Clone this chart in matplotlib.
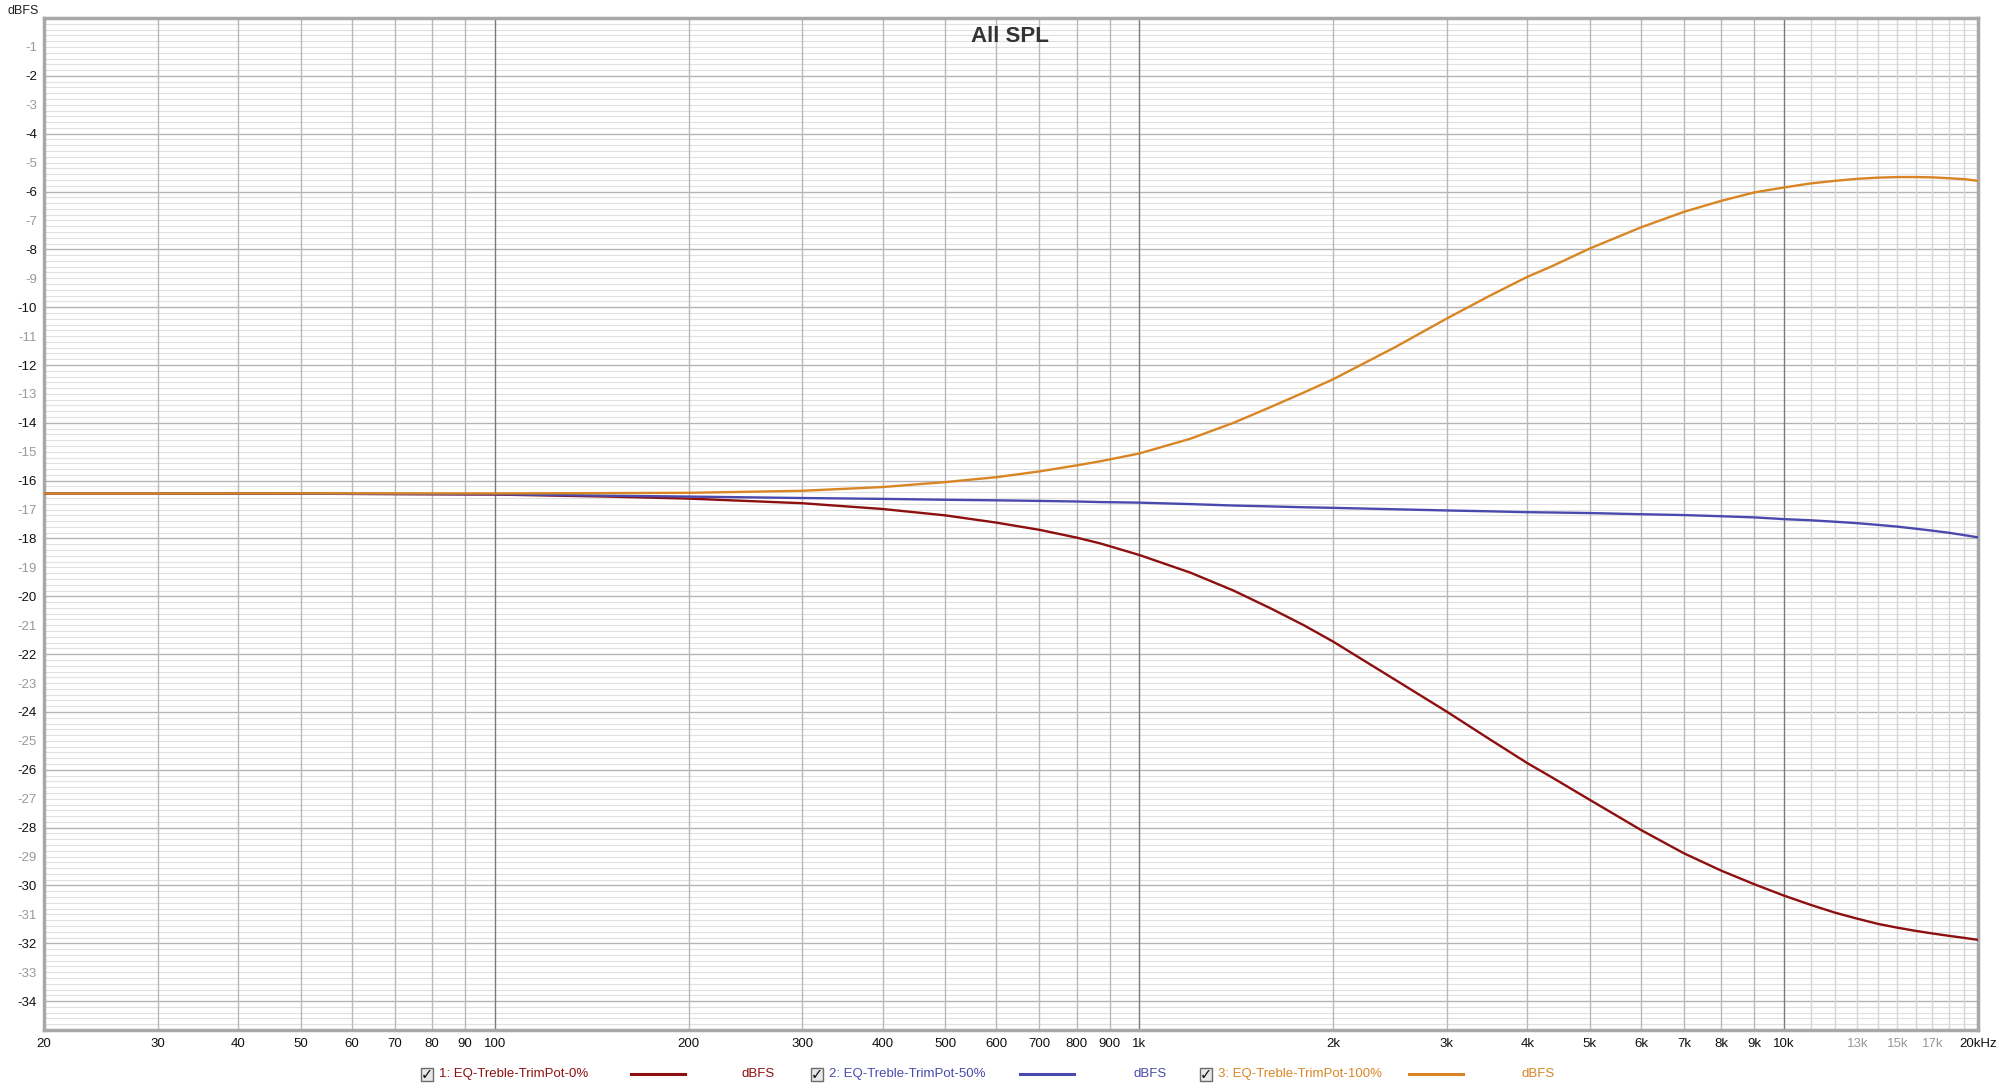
from matplotlib import pyplot as plt
from matplotlib.lines import Line2D
from matplotlib.patches import Rectangle

plt.rcParams['font.family'] = ['Liberation Sans', 'DejaVu Sans']

# Frequencies in Hz where the curves were read
freqs = [20, 30, 50, 100, 150, 200, 300, 400, 500, 600, 700, 800, 870, 1000,
         1200, 1400, 1600, 1800, 2000, 2500, 3000, 3500, 4000, 4350, 5000, 6000, 7000,
         8000, 9000, 10000, 11000, 12000, 13000, 14000, 15000, 16000, 17000, 18000,
         19000, 20000]

# Levels in dBFS
trim0 = [-16.44, -16.44, -16.45, -16.48, -16.55, -16.62, -16.78, -16.98, -17.2, -17.45,
         -17.7, -17.97, -18.17, -18.57, -19.18, -19.8, -20.42, -21.0, -21.57, -22.9,
         -23.99, -24.95, -25.77, -26.24, -27.04, -28.08, -28.89, -29.49, -29.96, -30.35,
         -30.67, -30.94, -31.15, -31.33, -31.46, -31.57, -31.66, -31.74, -31.81, -31.88]
trim50 = [-16.44, -16.44, -16.45, -16.47, -16.52, -16.55, -16.6, -16.63, -16.66, -16.68,
          -16.7, -16.72, -16.74, -16.76, -16.81, -16.86, -16.89, -16.92, -16.94, -16.99,
          -17.03, -17.06, -17.09, -17.1, -17.12, -17.16, -17.19, -17.23, -17.27, -17.33,
          -17.37, -17.42, -17.47, -17.53, -17.59, -17.66, -17.73, -17.8, -17.88, -17.96]
trim100 = [-16.44, -16.44, -16.44, -16.44, -16.43, -16.42, -16.35, -16.22, -16.05, -15.88,
           -15.68, -15.47, -15.33, -15.06, -14.55, -14.0, -13.45, -12.95, -12.49, -11.37,
           -10.39, -9.6, -8.95, -8.6, -7.97, -7.24, -6.7, -6.32, -6.03, -5.86,
           -5.72, -5.63, -5.56, -5.52, -5.5, -5.5, -5.51, -5.54, -5.57, -5.63]

seriesNames = ["1: EQ-Treble-TrimPot-0%", "2: EQ-Treble-TrimPot-50%", "3: EQ-Treble-TrimPot-100%"]
seriesColors = ["#8e0f0f", "#4a4aae", "#d98524"]

xTicks = [20, 30, 40, 50, 60, 70, 80, 90, 100, 200, 300, 400, 500, 600, 700, 800, 900,
          1000, 2000, 3000, 4000, 5000, 6000, 7000, 8000, 9000, 10000, 13000, 15000, 17000, 20000]
xLabels = ["20", "30", "40", "50", "60", "70", "80", "90", "100", "200", "300", "400", "500",
           "600", "700", "800", "900", "1k", "2k", "3k", "4k", "5k", "6k", "7k", "8k", "9k",
           "10k", "13k", "15k", "17k", "20kHz"]
yTicks = list(range(-34, 0))

fig = plt.figure(figsize=(20, 10.87), dpi=100)
ax = fig.add_axes([0.022, 0.0524, 0.967, 0.931])
ax.set_xscale('log')
ax.set_xlim(20, 20000)
ax.set_ylim(-35, 0)

# grid: horizontal every 0.2 dB, darker every 2 dB
for i in range(0, 176):
	v = -i * 0.2
	if i % 10 == 0:
		ax.axhline(v, color="#b4b4b4", lw=1.0, zorder=0)
	else:
		ax.axhline(v, color="#e0e0e0", lw=0.8, zorder=0)

# grid: vertical at each multiple of a decade
for decade in [10, 100, 1000]:
	for m in range(1, 10):
		f = decade * m
		if f < 20:
			continue
		if m == 1:
			ax.axvline(f, color="#7a7a7a", lw=1.0, zorder=0)
		else:
			ax.axvline(f, color="#b8b8b8", lw=1.0, zorder=0)
ax.axvline(10000, color="#7a7a7a", lw=1.0, zorder=0)
for m in range(11, 20):
	ax.axvline(m * 1000, color="#d6d6d6", lw=1.0, zorder=0)

for vals, col in zip([trim0, trim50, trim100], seriesColors):
	ax.plot(freqs, vals, color=col, lw=1.7, zorder=3, solid_joinstyle='round')

ax.set_xticks(xTicks)
ax.set_xticklabels(xLabels)
ax.xaxis.set_minor_locator(plt.NullLocator())
ax.set_yticks(yTicks)
ax.set_yticklabels([str(t) for t in yTicks])
ax.tick_params(axis='both', length=0, labelsize=9.5)
ax.tick_params(axis='x', pad=6)
ax.tick_params(axis='y', pad=5)
for lab, t in zip(ax.get_xticklabels(), xTicks):
	lab.set_color("#999999" if t in (13000, 15000, 17000) else "#111111")
for lab, t in zip(ax.get_yticklabels(), yTicks):
	lab.set_color("#111111" if t % 2 == 0 else "#999999")

for side in ['left', 'right', 'top', 'bottom']:
	ax.spines[side].set_color("#a8a8a8")
	ax.spines[side].set_linewidth(2.5)

fig.text(0.004, 0.995, "dBFS", fontsize=9, color="#222222", ha='left', va='top')
fig.text(0.505, 0.966, "All SPL", fontsize=16, fontweight='bold', color="#333333",
         ha='center', va='center')

# legend row at the bottom
legY = 0.0115
boxX = [0.2105, 0.4055, 0.6]
lineX = [(0.3155, 0.3425), (0.51, 0.537), (0.7045, 0.7315)]
unitX = [0.371, 0.5665, 0.761]
for i in range(3):
	fig.patches.append(Rectangle((boxX[i], legY - 0.0062), 0.0062, 0.0124, transform=fig.transFigure,
	                             facecolor="#e8e8e8", edgecolor="#6a6a6a", lw=1.0))
	fig.text(boxX[i] + 0.0032, legY, "\u2713", fontsize=10.5, fontweight='bold', color="#111111",
	         ha='center', va='center', family=['DejaVu Sans'])
	fig.text(boxX[i] + 0.0092, legY, seriesNames[i], fontsize=9.5, color=seriesColors[i],
	         ha='left', va='center')
	fig.lines.append(Line2D(lineX[i], [legY, legY], transform=fig.transFigure,
	                        color=seriesColors[i], lw=2.2))
	fig.text(unitX[i], legY, "dBFS", fontsize=9.5, color=seriesColors[i], ha='left', va='center')

fig.savefig("out.png", dpi=100)
